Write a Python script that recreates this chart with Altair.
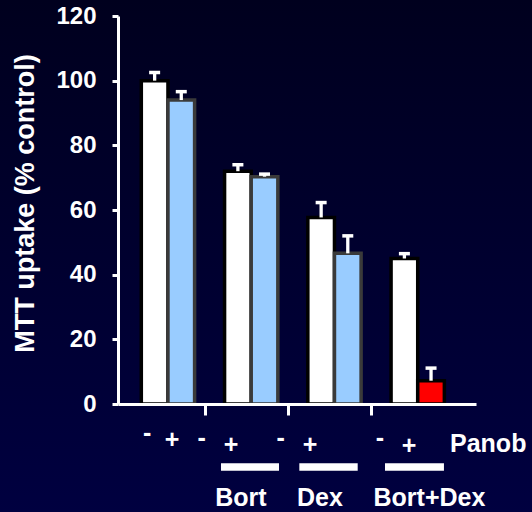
import altair as alt
import pandas as pd

# MTT uptake (% of control) without / with panobinostat for each treatment
groups = ["Control", "Bort", "Dex", "Bort+Dex"]
mtt_without_panob = [100, 72, 57.7, 45]
mtt_with_panob = [94, 70.3, 46.6, 7.2]
sem_without_panob = [2.5, 2.0, 4.6, 1.5]
sem_with_panob = [2.6, 0.8, 5.4, 3.9]

y_ticks = [0, 20, 40, 60, 80, 100, 120]
group_separators = [0.45, 1.44, 2.44]

# treatment legend under the x axis
panob_signs = ["-", "+", "-", "+", "-", "+", "-", "+"]
sign_x = [-0.25, 0.05, 0.405, 0.757, 1.354, 1.706, 2.547, 2.895]
sign_y = [417, 424, 422, 429, 422, 429, 422, 429.5]
treatment_labels = ["Bort", "Dex", "Bort+Dex"]
treatment_label_x = [0.877, 1.826, 3.141]
underline_start = [0.637, 1.578, 2.607]
underline_end = [1.334, 2.279, 3.315]

FONT = "Liberation Sans"
W, H = 358, 388
PAD_L, PAD_T, PAD_R, PAD_B = 118, 16, 56, 108

rows = []
for i, g in enumerate(groups):
    rows.append({"group": g, "idx": i, "panob": "-",
                 "value": mtt_without_panob[i], "err": sem_without_panob[i],
                 "kind": "no panob"})
    rows.append({"group": g, "idx": i, "panob": "+",
                 "value": mtt_with_panob[i], "err": sem_with_panob[i],
                 "kind": "panob + bort + dex" if g == "Bort+Dex" else "panob"})
bars_df = pd.DataFrame(rows)

kinds = ["no panob", "panob", "panob + bort + dex"]
fills = ["#ffffff", "#99ccff", "#ff0000"]
strokes = ["#000000", "#3a3a3a", "#000000"]

x_scale = alt.Scale(domain=[-0.6, 3.7], nice=False, zero=False)
y_scale = alt.Scale(domain=[0, 120], nice=False, zero=False)

x_axis = alt.Axis(values=group_separators, labels=False, title=None,
                  grid=False, tickSize=11, tickWidth=3, tickColor="white",
                  domainColor="white", domainWidth=3, zindex=2)
y_axis = alt.Axis(values=y_ticks, grid=False, tickSize=6, tickWidth=3,
                  tickColor="white", domainColor="white", domainWidth=3,
                  labelColor="white", labelFontSize=24, labelFontWeight="bold",
                  labelFont=FONT, labelPadding=16,
                  title="MTT uptake (% control)", titleColor="white",
                  titleFont=FONT, titleFontSize=27, titleFontWeight="bold",
                  titleAngle=270, titleX=-85, titleY=187, titleAlign="center",
                  titleBaseline="alphabetic", zindex=2)

base = alt.Chart(bars_df).transform_calculate(
    x0="datum.idx + (datum.panob == '-' ? -0.32 : 0)",
    x1="datum.x0 + 0.32",
    xc="datum.x0 + 0.16",
    top="datum.value + datum.err",
)

# background wash
background = alt.Chart(alt.Data(values=[{}])).mark_rect(
    fill=alt.LinearGradient(
        gradient="linear",
        stops=[alt.GradientStop(color="#00001e", offset=0),
               alt.GradientStop(color="#000040", offset=1)],
        x1=0, x2=0, y1=0, y2=1,
    )
).encode(
    x=alt.value(-PAD_L), x2=alt.value(W + PAD_R),
    y=alt.value(-PAD_T), y2=alt.value(H + PAD_B),
)

stems = base.mark_rule(color="white", strokeWidth=3.3).encode(
    x=alt.X("xc:Q", scale=x_scale, axis=x_axis),
    y=alt.Y("value:Q", scale=y_scale, axis=y_axis),
    y2="top:Q",
)

caps = base.mark_tick(orient="horizontal", color="white", size=11,
                      thickness=3.5, opacity=1).encode(
    x=alt.X("xc:Q", scale=x_scale, axis=x_axis),
    y=alt.Y("top:Q", scale=y_scale, axis=y_axis),
)

bars = base.mark_rect(strokeWidth=3.5).encode(
    x=alt.X("x0:Q", scale=x_scale, axis=x_axis),
    x2="x1:Q",
    y=alt.Y("value:Q", scale=y_scale, axis=y_axis),
    y2=alt.datum(0),
    fill=alt.Fill("kind:N", scale=alt.Scale(domain=kinds, range=fills),
                  legend=None),
    stroke=alt.Stroke("kind:N", scale=alt.Scale(domain=kinds, range=strokes),
                      legend=None),
)

signs_df = pd.DataFrame({"sign": panob_signs, "x": sign_x, "y": sign_y})
signs = alt.Chart(signs_df).mark_text(
    color="white", font=FONT, fontSize=25, fontWeight="bold",
    align="center", baseline="middle",
).encode(
    x=alt.X("x:Q", scale=x_scale, axis=x_axis),
    y=alt.Y("y:Q", scale=None),
    text="sign:N",
)

panob_label = alt.Chart(alt.Data(values=[{"t": "Panob", "x": 3.388}])).mark_text(
    color="white", font=FONT, fontSize=25, fontWeight="bold",
    align="left", baseline="middle",
).encode(
    x=alt.X("x:Q", scale=x_scale, axis=x_axis),
    y=alt.value(428),
    text="t:N",
)

underline_df = pd.DataFrame({"x": underline_start, "x2": underline_end})
underlines = alt.Chart(underline_df).mark_rule(
    color="white", strokeWidth=7.5
).encode(
    x=alt.X("x:Q", scale=x_scale, axis=x_axis),
    x2="x2:Q",
    y=alt.value(451),
)

labels_df = pd.DataFrame({"label": treatment_labels, "x": treatment_label_x})
treatment_text = alt.Chart(labels_df).mark_text(
    color="white", font=FONT, fontSize=25, fontWeight="bold",
    align="center", baseline="middle",
).encode(
    x=alt.X("x:Q", scale=x_scale, axis=x_axis),
    y=alt.value(482),
    text="label:N",
)

chart = alt.layer(
    background, bars, stems, caps, signs, panob_label, underlines,
    treatment_text,
).properties(
    width=W, height=H,
    autosize=alt.AutoSizeParams(type="none"),
    padding={"left": PAD_L, "top": PAD_T, "right": PAD_R, "bottom": PAD_B},
    background="#000030",
).configure_view(stroke=None).configure(font=FONT)

chart.save("out.html", embed_options={"renderer": "svg", "actions": False})
